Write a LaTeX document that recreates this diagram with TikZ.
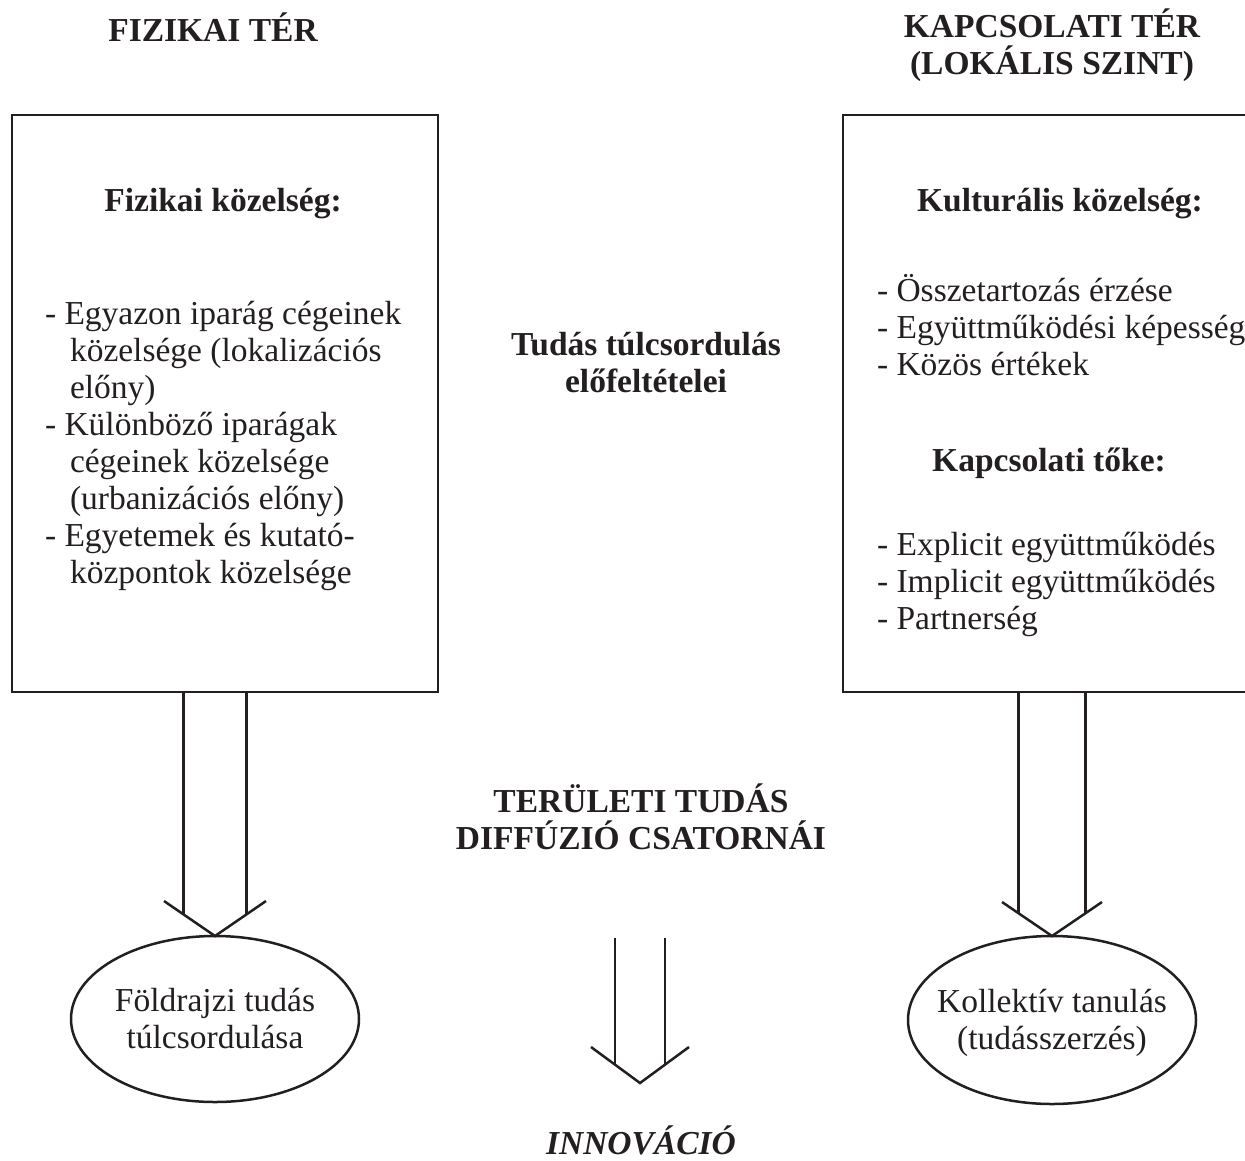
\documentclass[tikz,border=0pt]{standalone}
\usepackage{fontspec}
\setmainfont{Liberation Serif}
\usetikzlibrary{shapes.geometric,calc}
\definecolor{ink}{RGB}{35,31,32}
\tikzset{
  every node/.style={text=ink, font=\fontsize{33.5}{37}\selectfont, inner sep=0pt, outer sep=0pt},
  hd/.style={font=\fontsize{33.5}{37}\selectfont\bfseries, align=center},
  it/.style={font=\fontsize{33.5}{37}\selectfont\bfseries\itshape},
  txt/.style={align=left},
  ctr/.style={align=center},
  frame/.style={draw=ink, line width=2.5pt, rectangle},
  oval/.style={draw=ink, line width=2.5pt, ellipse},
  ln/.style={draw=ink, line width=2.5pt},
}
\newcommand\dblarr[5]{%
  \path ($(#1)+(-#3,0)$) coordinate (#1l) ($(#1)+(#3,0)$) coordinate (#1r);
  \pgfmathsetmacro\shft{#5*#3/#4}
  \draw[ln] (#1l |- #2) -- ($(#1)+(-#3,-\shft)$);
  \draw[ln] (#1r |- #2) -- ($(#1)+(#3,-\shft)$);
  \draw[ln] ($(#1)+(-#4,-#5)$) -- (#1) -- ($(#1)+(#4,-#5)$);
}
\begin{document}
\begin{tikzpicture}[x=1pt,y=-1pt]
\useasboundingbox (0,0) rectangle (1245,1160);
\clip (0,0) rectangle (1245,1160);

% titles
\node[hd] (t1) at (213,27) {FIZIKAI TÉR};
\node[hd] (t2) at (1052,45) {KAPCSOLATI TÉR\\(LOKÁLIS SZINT)};

% boxes
\node[frame, minimum width=426pt, minimum height=577pt] (lbox) at (225,403.5) {};
\node[frame, minimum width=457pt, minimum height=577pt] (rbox) at (1071.5,403.5) {};

% left box text
\node[hd] (lh) at (223,204) {Fizikai közelség:};
\node[txt, anchor=west] (ll) at (45,446) {- Egyazon iparág cégeinek\\
\hspace*{25pt}közelsége (lokalizációs\\
\hspace*{25pt}előny)\\
- Különböző iparágak\\
\hspace*{25pt}cégeinek közelsége\\
\hspace*{25pt}(urbanizációs előny)\\
- Egyetemek és kutató-\\
\hspace*{25pt}központok közelsége};

% middle texts
\node[hd] (mid1) at (646,363) {Tudás túlcsordulás\\előfeltételei};
\node[hd] (mid2) at (641,817) {TERÜLETI TUDÁS\\DIFFÚZIÓ CSATORNÁI};

% right box text
\node[hd] (rh1) at (1060,204) {Kulturális közelség:};
\node[txt, anchor=west] (rl1) at (877,325) {- Összetartozás érzése\\
- Együttműködési képesség\\
- Közös értékek};
\node[hd] (rh2) at (1049,463) {Kapcsolati tőke:};
\node[txt, anchor=west] (rl2) at (877,584) {- Explicit együttműködés\\
- Implicit együttműködés\\
- Partnerség};

% ellipses
\node[oval, minimum width=288pt, minimum height=166pt] (lell) at (215,1019) {};
\node[ctr] (lellt) at (lell.center) {Földrajzi tudás\\túlcsordulása};
\node[oval, minimum width=288pt, minimum height=168pt] (rell) at (1052,1020) {};
\node[ctr] (rellt) at ($(rell.center)+(0,3)$) {Kollektív tanulás\\(tudásszerzés)};

% innovation
\node[it] (inn) at (641,1140) {INNOVÁCIÓ};

% arrows
\coordinate (lt) at (lell.north);
\dblarr{lt}{lbox.south}{31.5}{51}{35}
\coordinate (rt) at (rell.north);
\dblarr{rt}{rbox.south}{33.5}{50}{34}
\coordinate (ctop) at (640,938);
\coordinate (ct) at (640,1083);
\dblarr{ct}{ctop}{25}{49}{36}
\end{tikzpicture}
\end{document}
